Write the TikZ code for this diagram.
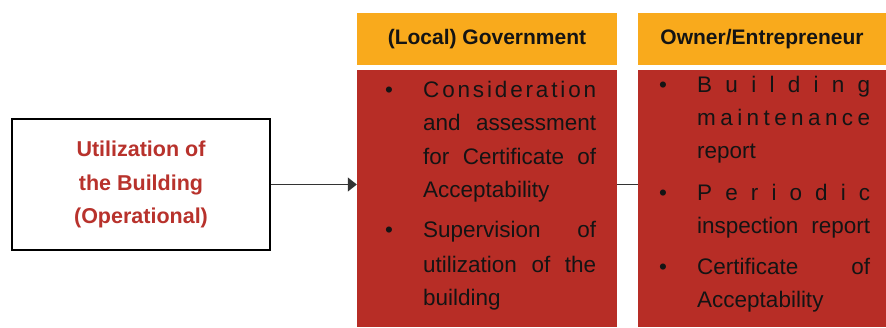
\documentclass[tikz,border=0pt]{standalone}
\usepackage{fontspec}
\setmainfont{Liberation Sans}
\usetikzlibrary{arrows.meta}
\definecolor{hdrorange}{HTML}{F9AA1C}
\definecolor{bodyred}{HTML}{B72D26}
\definecolor{titlered}{HTML}{B8322C}
\definecolor{inkdark}{HTML}{141414}
\tikzset{
  hdr/.style={fill=hdrorange, draw=none, minimum height=52pt, inner sep=0pt,
    font=\fontsize{21}{24}\selectfont\bfseries, text=inkdark},
  body/.style={fill=bodyred, draw=none, inner sep=0pt},
  phase/.style={draw=black, line width=1.4pt, fill=white, inner sep=0pt,
    minimum width=258pt, minimum height=131pt, align=center,
    font=\fontsize{21.5}{33.5}\selectfont\bfseries, text=titlered},
  ln/.style={anchor=base west, inner sep=0pt, text=inkdark,
    font=\fontsize{22.5}{24}\selectfont},
  blt/.style={anchor=base, inner sep=0pt, text=inkdark,
    font=\fontsize{22.5}{24}\selectfont},
  link/.style={draw=black!80, line width=1pt},
}
% a justified line of fixed width (word gaps stretch)
\newcommand{\jline}[1]{\makebox[173pt][s]{#1}}
% a single word spread letter by letter over the line width
\newcommand{\spreadword}[1]{\hbox to 173pt{\spreadletters#1\relax}}
\def\spreadletters#1#2{#1\ifx#2\relax\else\hfil\expandafter\spreadletters\expandafter#2\fi}
\begin{document}
\begin{tikzpicture}[x=1pt,y=-1pt]
\useasboundingbox (0,0) rectangle (886,327);

% phase box
\node[phase] (util) at (141,184.5) {Utilization of\\the Building\\(Operational)};

% column headers and bodies
\node[hdr, minimum width=260pt] (govh) at (487,39) {(Local) Government};
\node[hdr, minimum width=248pt] (ownh) at (762,39) {Owner/Entrepreneur};
\node[body, minimum width=260pt, minimum height=257pt] (govb) at (487,198.5) {};
\node[body, minimum width=248pt, minimum height=257pt] (ownb) at (762,198.5) {};

% connectors
\draw[link, -{Triangle[length=9pt,width=14pt]}] (util.east) -- (util.east -| govb.west);
\draw[link] (govb.east |- util.east) -- (ownb.west |- util.east);

% government duties
\node[blt] (gb1) at (389,97) {\textbullet};
\node[ln] (g1) at (423,97) {\spreadword{Consideration}};
\node[ln] (g2) at (423,130) {\jline{and assessment}};
\node[ln] (g3) at (423,164) {\jline{for Certificate of}};
\node[ln] (g4) at (423,197) {Acceptability};
\node[blt] (gb2) at (389,237) {\textbullet};
\node[ln] (g5) at (423,237) {\jline{Supervision of}};
\node[ln] (g6) at (423,272) {\jline{utilization of the}};
\node[ln] (g7) at (423,305) {building};

% owner duties
\node[blt] (ob1) at (663,92) {\textbullet};
\node[ln] (o1) at (697,92) {\spreadword{Building}};
\node[ln] (o2) at (697,125) {\spreadword{maintenance}};
\node[ln] (o3) at (697,158) {report};
\node[blt] (ob2) at (663,200) {\textbullet};
\node[ln] (o4) at (697,200) {\spreadword{Periodic}};
\node[ln] (o5) at (697,233) {\jline{inspection report}};
\node[blt] (ob3) at (663,274) {\textbullet};
\node[ln] (o6) at (697,274) {\jline{Certificate of}};
\node[ln] (o7) at (697,307) {Acceptability};
\end{tikzpicture}
\end{document}
